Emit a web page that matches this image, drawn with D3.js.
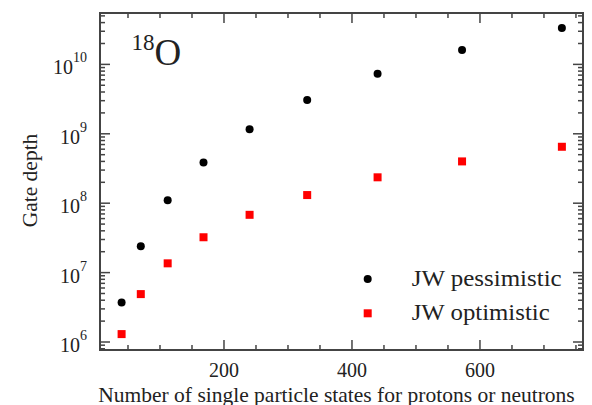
<!DOCTYPE html>
<html>
<head>
<meta charset="utf-8">
<script src="https://cdn.jsdelivr.net/npm/d3@7"></script>
<style>
  body { margin: 0; background: #fff; }
</style>
</head>
<body>
<div id="chart"></div>
<script>
// data
const states = [40, 70, 112, 168, 240, 330, 440, 572, 728];
const pessimistic = [3.7e6, 2.4e7, 1.1e8, 3.85e8, 1.16e9, 3.07e9, 7.3e9, 1.61e10, 3.35e10];
const optimistic = [1.3e6, 4.9e6, 1.36e7, 3.23e7, 6.8e7, 1.31e8, 2.36e8, 4.0e8, 6.5e8];
const seriesNames = ["JW pessimistic", "JW optimistic"];
const xTicks = [200, 400, 600];
const yExponents = [6, 7, 8, 9, 10];

const margin = { top: 13, right: 9, bottom: 55, left: 100 },
  width = 592 - margin.left - margin.right,
  height = 405 - margin.top - margin.bottom;

const serif = "'Liberation Serif', 'DejaVu Serif', serif";

const svg = d3
  .select("#chart")
  .append("svg")
  .attr("width", 592)
  .attr("height", 405)
  .attr("font-family", serif)
  .append("g")
  .attr("transform", `translate(${margin.left},${margin.top})`);

const x = d3.scaleLinear().domain([6.25, 761]).range([0, width]);
const y = d3.scaleLog().domain([7.67e5, 5.5e10]).range([height, 0]);

const axisColor = "#444";
const textColor = "#222";

// minor ticks
const xMinor = d3.range(50, 761, 50).filter((v) => xTicks.indexOf(v) < 0);
const yMinor = [];
for (let e = 5; e <= 10; e++) {
  for (let m = 2; m <= 9; m++) {
    const v = m * Math.pow(10, e);
    if (v > y.domain()[0] && v < y.domain()[1]) yMinor.push(v);
  }
}

// ticks pointing inward, on all four sides
function xTickLines(vals, len) {
  [0, height].forEach(function (base) {
    const dir = base === 0 ? 1 : -1;
    svg
      .append("g")
      .selectAll("line")
      .data(vals)
      .join("line")
      .attr("x1", (d) => x(d))
      .attr("x2", (d) => x(d))
      .attr("y1", base)
      .attr("y2", base + dir * len)
      .attr("stroke", axisColor)
      .attr("stroke-width", 1.5);
  });
}
function yTickLines(vals, len) {
  [0, width].forEach(function (base) {
    const dir = base === 0 ? 1 : -1;
    svg
      .append("g")
      .selectAll("line")
      .data(vals)
      .join("line")
      .attr("y1", (d) => y(d))
      .attr("y2", (d) => y(d))
      .attr("x1", base)
      .attr("x2", base + dir * len)
      .attr("stroke", axisColor)
      .attr("stroke-width", 1.5);
  });
}
xTickLines(xTicks, 10);
xTickLines(xMinor, 5);
yTickLines(yExponents.map((e) => Math.pow(10, e)), 10);
yTickLines(yMinor, 5);

// frame
svg
  .append("rect")
  .attr("width", width)
  .attr("height", height)
  .attr("fill", "none")
  .attr("stroke", axisColor)
  .attr("stroke-width", 2);

// x tick labels
svg
  .append("g")
  .selectAll("text")
  .data(xTicks)
  .join("text")
  .attr("x", (d) => x(d))
  .attr("y", height + 27)
  .attr("text-anchor", "middle")
  .attr("fill", textColor)
  .style("font-family", serif)
  .style("font-size", "20px")
  .text((d) => d);

// y tick labels 10^n
const yl = svg
  .append("g")
  .selectAll("text")
  .data(yExponents)
  .join("text")
  .attr("x", -13)
  .attr("y", (d) => y(Math.pow(10, d)) + 10)
  .attr("text-anchor", "end")
  .attr("fill", textColor)
  .style("font-family", serif)
  .style("font-size", "20px");
yl.append("tspan").text("10");
yl.append("tspan")
  .attr("dy", -12)
  .style("font-size", "14px")
  .text((d) => d);

// axis titles
svg
  .append("text")
  .attr("x", width / 2 - 5)
  .attr("y", height + 52)
  .attr("text-anchor", "middle")
  .attr("fill", textColor)
  .style("font-family", serif)
  .style("font-size", "21.5px")
  .text("Number of single particle states for protons or neutrons");

svg
  .append("text")
  .attr("transform", `translate(${36.5 - margin.left},${180.5 - margin.top}) rotate(-90)`)
  .attr("text-anchor", "middle")
  .attr("fill", textColor)
  .style("font-family", serif)
  .style("font-size", "21.5px")
  .text("Gate depth");

// nucleus label
const nuc = svg
  .append("text")
  .attr("x", 131.5 - margin.left)
  .attr("y", 65 - margin.top)
  .attr("fill", textColor)
  .style("font-family", serif);
nuc.append("tspan").style("font-size", "23px").attr("dy", -15).text("18");
nuc.append("tspan").style("font-size", "37px").attr("dy", 15).text("O");

// points
svg
  .append("g")
  .selectAll("circle")
  .data(states)
  .join("circle")
  .attr("cx", (d) => x(d))
  .attr("cy", (d, i) => y(pessimistic[i]))
  .attr("r", 4)
  .attr("fill", "#000");

svg
  .append("g")
  .selectAll("rect")
  .data(states)
  .join("rect")
  .attr("x", (d) => x(d) - 4)
  .attr("y", (d, i) => y(optimistic[i]) - 4)
  .attr("width", 8)
  .attr("height", 8)
  .attr("fill", "#ff0000");

// legend
const lg = svg.append("g").attr("transform", `translate(${367.7 - margin.left},${279 - margin.top})`);
lg.append("circle").attr("cx", 0).attr("cy", 0).attr("r", 4).attr("fill", "#000");
lg.append("rect").attr("x", -4).attr("y", 30.3).attr("width", 8).attr("height", 8).attr("fill", "#ff0000");
lg.selectAll("text.leg")
  .data(seriesNames)
  .join("text")
  .attr("class", "leg")
  .attr("x", 44)
  .attr("y", (d, i) => 7 + i * 33.5)
  .attr("fill", textColor)
  .attr("textLength", (d, i) => (i === 0 ? 150 : 138))
  .attr("lengthAdjust", "spacingAndGlyphs")
  .style("font-family", serif)
  .style("font-size", "24px")
  .text((d) => d);
</script>
</body>
</html>
